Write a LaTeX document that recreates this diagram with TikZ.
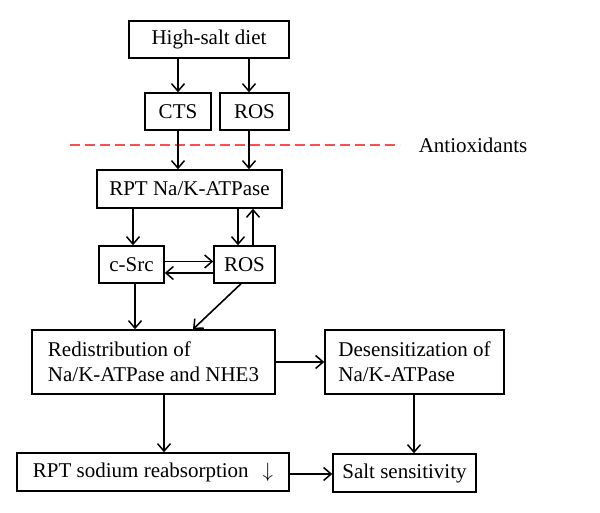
\documentclass[tikz,border=0pt]{standalone}
\usepackage{fontspec}
\setmainfont{Liberation Serif}
\usetikzlibrary{arrows.meta}
\begin{document}
\begin{tikzpicture}[x=1pt,y=-1pt,
  box/.style={draw,line width=1.5pt,inner sep=0pt,font=\fontsize{21}{25}\selectfont},
  arr/.style={line width=1.6pt,-{Straight Barb[length=7.5pt,width=13pt,line width=1.5pt]}},
  redline/.style={draw=red!70!white,line width=1.5pt,dash pattern=on 10pt off 5pt}]
\useasboundingbox (0,0) rectangle (600,513);
\node[box,minimum width=160,minimum height=37] (hs) at (209,39.5) {High-salt diet};
\node[box,minimum width=66,minimum height=37] (cts) at (178,111.5) {CTS};
\node[box,minimum width=69,minimum height=37] (ros1) at (254.5,111.5) {ROS};
\node[box,minimum width=185,minimum height=38] (rpt) at (189.5,189) {RPT Na/K-ATPase};
\node[box,minimum width=65,minimum height=37] (csrc) at (131.5,264.5) {c-Src};
\node[box,minimum width=61,minimum height=37] (ros2) at (244.5,264.5) {ROS};
\node[box,minimum width=243,minimum height=64,align=left] (redis) at (153.5,362) {Redistribution of\\Na/K-ATPase and NHE3};
\node[box,minimum width=179,minimum height=64,align=left] (desens) at (414.5,362) {Desensitization of\\Na/K-ATPase};
\node[box,minimum width=272,minimum height=38] (rsr) at (153,472) {RPT sodium reabsorption\hspace{14pt}$\downarrow$};
\node[box,minimum width=143,minimum height=38] (salt) at (404.5,473) {Salt sensitivity};
\node[font=\fontsize{21}{25}\selectfont,inner sep=0pt] (anti) at (473,145) {Antioxidants};
\coordinate (dstart) at (70,145);
\coordinate (dend) at (400,145);
\draw[redline] (dstart) -- (dend);
% arrows
\draw[arr] (hs.south -| cts.north) -- (cts.north);
\draw[arr] ([xshift=-5.5pt]ros1.north |- hs.south) -- ([xshift=-5.5pt]ros1.north);
\draw[arr] (cts.south) -- (cts.south |- rpt.north);
\draw[arr] ([xshift=-5.5pt]ros1.south) -- ([xshift=-5.5pt]ros1.south |- rpt.north);
\draw[arr] ([xshift=1.5pt]csrc.north |- rpt.south) -- ([xshift=1.5pt]csrc.north);
\draw[arr] ([xshift=-6.5pt]ros2.north |- rpt.south) -- ([xshift=-6.5pt]ros2.north);
\draw[arr] ([xshift=8.5pt]ros2.north) -- ([xshift=8.5pt]ros2.north |- rpt.south);
\draw[arr] ([yshift=3pt]csrc.east) -- ([yshift=3pt]csrc.east -| ros2.west);
\draw[arr] ([yshift=-8.5pt]ros2.west) -- ([yshift=-8.5pt]ros2.west -| csrc.east);
\draw[arr] ([xshift=3.5pt]csrc.south) -- ([xshift=3.5pt]csrc.south |- redis.north);
\draw[arr] ([xshift=-3.5pt]ros2.south) -- ([xshift=39.5pt]redis.north);
\draw[arr] (redis.east) -- (redis.east -| desens.west);
\draw[arr] ([xshift=10.5pt]redis.south) -- ([xshift=10.5pt]redis.south |- rsr.north);
\draw[arr] ([xshift=-0.5pt]desens.south) -- ([xshift=-0.5pt]desens.south |- salt.north);
\draw[arr] ([yshift=-2pt]rsr.east) -- ([yshift=-2pt]rsr.east -| salt.west);
\end{tikzpicture}
\end{document}
